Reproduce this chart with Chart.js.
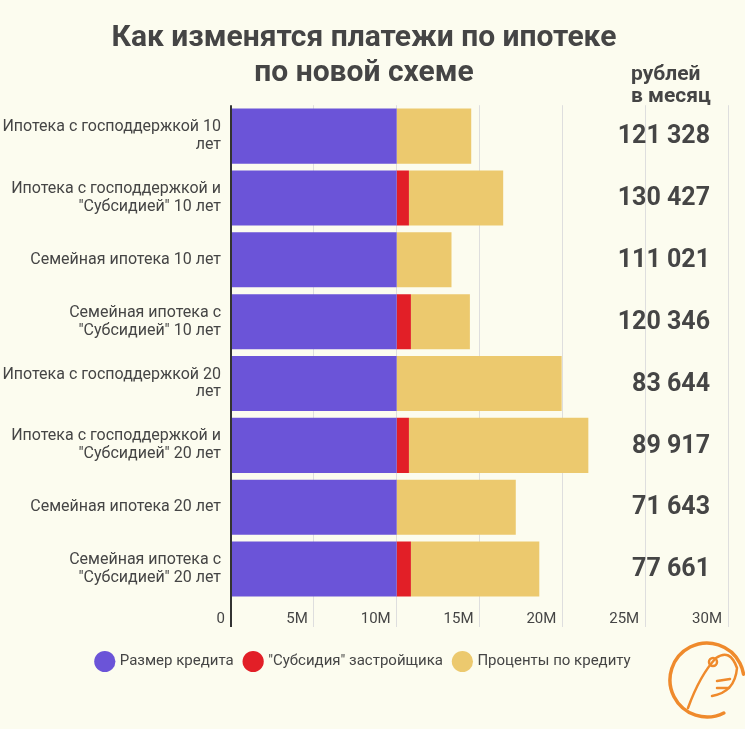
<!DOCTYPE html>
<html>
<head>
<meta charset="utf-8">
<script src="https://cdn.jsdelivr.net/npm/chart.js@4.4.1/dist/chart.umd.min.js"></script>
<style>
  body { margin: 0; background: #fcfcef; }
  #wrap { width: 745px; height: 729px; position: relative; }
</style>
</head>
<body>
<div id="wrap"><canvas id="chart"></canvas></div>
<script>
// Categories (two-line labels)
let categories = [
    ["Ипотека с господдержкой 10", "лет"],
    ["Ипотека с господдержкой и", "\"Субсидией\" 10 лет"],
    ["Семейная ипотека 10 лет"],
    ["Семейная ипотека с", "\"Субсидией\" 10 лет"],
    ["Ипотека с господдержкой 20", "лет"],
    ["Ипотека с господдержкой и", "\"Субсидией\" 20 лет"],
    ["Семейная ипотека 20 лет"],
    ["Семейная ипотека с", "\"Субсидией\" 20 лет"]
];

// Values in millions of rubles
let loanAmount = [10, 10, 10, 10, 10, 10, 10, 10];
let subsidy = [0, 0.74, 0, 0.86, 0, 0.74, 0, 0.86];
let interest = [4.50, 5.69, 3.31, 3.56, 9.96, 10.83, 7.19, 7.75];

// Monthly payment, rubles
let monthly = [121328, 130427, 111021, 120346, 83644, 89917, 71643, 77661];

let xTicks = [0, 5, 10, 15, 20, 25, 30];

let textColor = "#454545";

function fmt(n) {
    return String(n).replace(/\B(?=(\d{3})+(?!\d))/g, " ");
}

// Right column with monthly payments + small logo
let sidePlugin = {
    id: "side",
    afterDraw(chart) {
        let ctx = chart.ctx;
        let y = chart.scales.y;
        ctx.save();
        ctx.fillStyle = textColor;

        ctx.font = "bold 21px Roboto";
        ctx.textAlign = "left";
        ctx.textBaseline = "middle";
        ctx.fillText("рублей", 631, 75);
        ctx.fillText("в месяц", 631, 97);

        ctx.font = "bold 25px Roboto";
        ctx.textAlign = "right";
        monthly.forEach((m, i) => {
            ctx.fillText(fmt(m), 710, y.getPixelForValue(i) + 1);
        });

        // logo
        ctx.strokeStyle = "#ef8a2c";
        ctx.lineWidth = 3.5;
        ctx.lineCap = "round";
        ctx.beginPath();
        ctx.arc(707, 680, 37, 0.35 * Math.PI, 1.95 * Math.PI);
        ctx.stroke();
        ctx.lineWidth = 2.5;
        ctx.beginPath();
        ctx.moveTo(688, 708);
        ctx.quadraticCurveTo(700, 675, 716, 658);
        ctx.quadraticCurveTo(730, 648, 737, 668);
        ctx.quadraticCurveTo(735, 692, 712, 696);
        ctx.stroke();
        ctx.beginPath();
        ctx.arc(713, 662, 4, 0, 2 * Math.PI);
        ctx.stroke();
        ctx.beginPath();
        ctx.moveTo(717, 681);
        ctx.lineTo(730, 679);
        ctx.moveTo(717, 688);
        ctx.lineTo(729, 688);
        ctx.stroke();
        ctx.restore();
    }
};

let bgPlugin = {
    id: "bg",
    beforeDraw(chart) {
        let ctx = chart.ctx;
        ctx.save();
        ctx.fillStyle = "#fcfcef";
        ctx.fillRect(0, 0, chart.width, chart.height);
        ctx.restore();
    }
};

Chart.defaults.font.family = "Roboto";
Chart.defaults.color = textColor;

let ctx = document.getElementById("chart").getContext("2d");

let chart = new Chart(ctx, {
    type: "bar",
    data: {
        labels: categories,
        datasets: [
            { label: "Размер кредита", data: loanAmount, backgroundColor: "#6b54d8" },
            { label: "\"Субсидия\" застройщика", data: subsidy, backgroundColor: "#e21f27" },
            { label: "Проценты по кредиту", data: interest, backgroundColor: "#ecc96e" }
        ]
    },
    options: {
        indexAxis: "y",
        responsive: true,
        maintainAspectRatio: false,
        animation: false,
        categoryPercentage: 1,
        barPercentage: 0.89,
        layout: { padding: { left: 0, right: 17, top: 0, bottom: 50 } },
        scales: {
            x: {
                stacked: true,
                min: 0,
                max: 30,
                afterBuildTicks(scale) {
                    scale.ticks = xTicks.map(v => ({ value: v }));
                },
                afterFit(scale) {
                    scale.height = 42;
                },
                border: { display: false },
                grid: {
                    tickLength: 27,
                    color: c => c.tick && c.tick.value === 0 ? "#333333" : "#dedede",
                    lineWidth: c => c.tick && c.tick.value === 0 ? 2 : 1
                },
                ticks: {
                    align: "end",
                    labelOffset: -6,
                    padding: -17,
                    font: { size: 15 },
                    callback: v => v === 0 ? "0" : v + "M"
                }
            },
            y: {
                stacked: true,
                afterFit(scale) {
                    scale.width = 231;
                },
                border: { display: false },
                grid: { display: false, drawTicks: false },
                ticks: {
                    padding: 10,
                    font: { size: 16, lineHeight: 1.12 }
                }
            }
        },
        plugins: {
            title: {
                display: true,
                text: ["Как изменятся платежи по ипотеке", "по новой схеме"],
                color: textColor,
                font: { size: 30, weight: "bold", lineHeight: 1.17 },
                padding: { top: 21, bottom: 14 }
            },
            legend: {
                position: "bottom",
                labels: {
                    usePointStyle: true,
                    pointStyle: "circle",
                    boxWidth: 18,
                    boxHeight: 18,
                    padding: 12,
                    font: { size: 15 }
                }
            },
            tooltip: { enabled: false }
        }
    },
    plugins: [bgPlugin, sidePlugin]
});
</script>
</body>
</html>
